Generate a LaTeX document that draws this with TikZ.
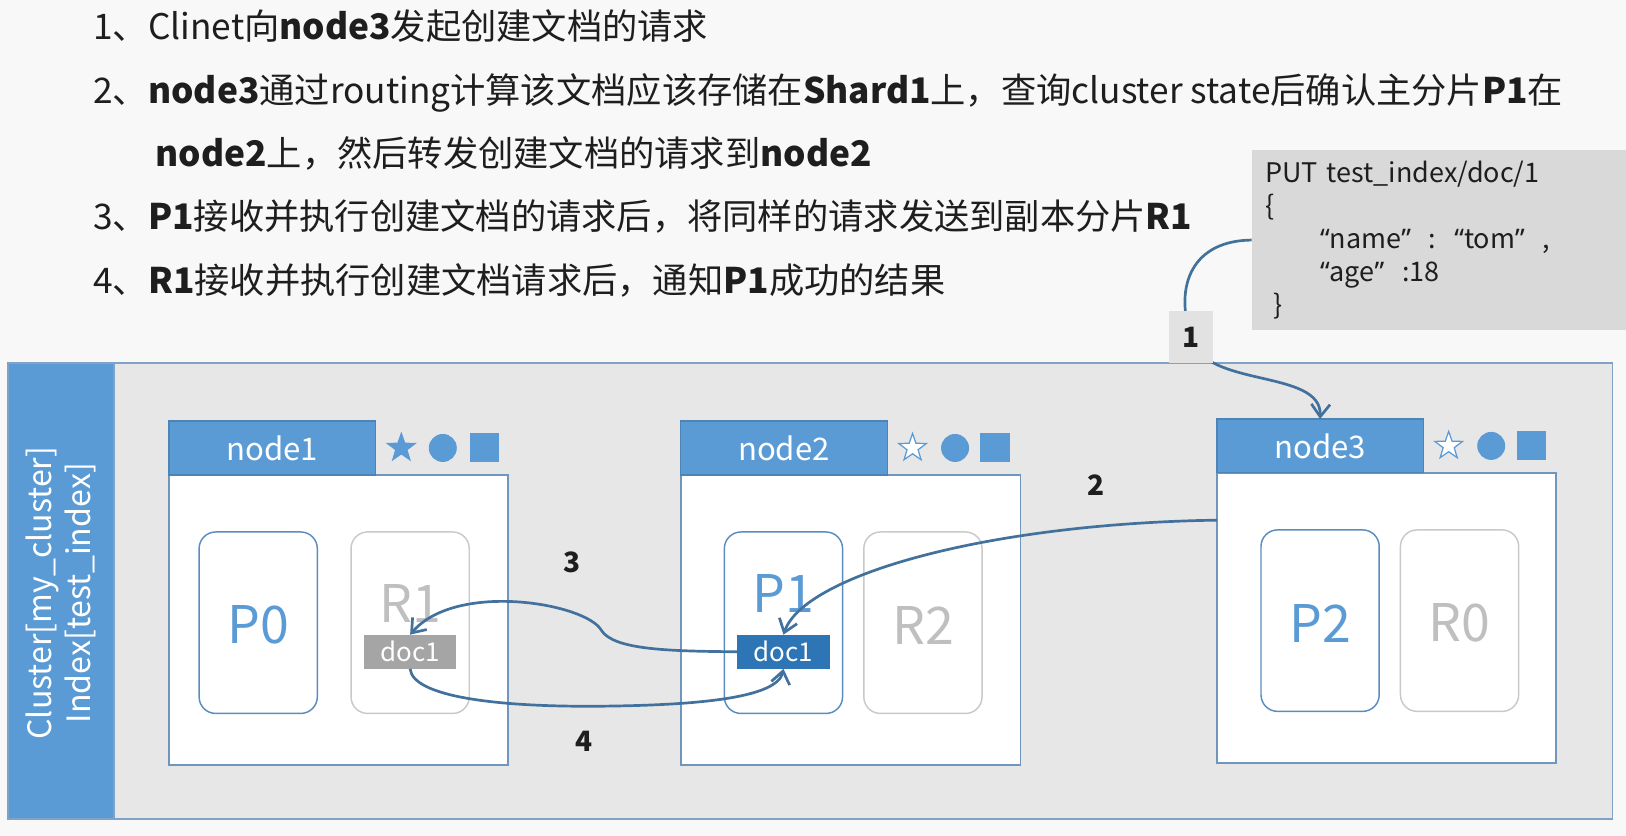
\documentclass[tikz,border=0pt]{standalone}
\usepackage{fontspec}
\setmainfont{Noto Sans CJK SC}
\newfontfamily\latinq{Noto Sans}
\usetikzlibrary{shapes.geometric,arrows.meta,calc}

\definecolor{hdrblue}{HTML}{5B9BD5}
\definecolor{docblue}{HTML}{2E75B6}
\definecolor{arrblue}{HTML}{41719C}
\definecolor{bodyline}{HTML}{7096BE}
\definecolor{clusterbg}{HTML}{E7E7E8}
\definecolor{clusterline}{HTML}{7FA2C6}
\definecolor{rline}{HTML}{C9C9C9}
\definecolor{rtext}{HTML}{BFBFBF}
\definecolor{pline}{HTML}{5A8CC0}
\definecolor{docgray}{HTML}{A5A5A5}
\definecolor{putgray}{HTML}{D9D9D9}
\definecolor{labgray}{HTML}{E2E2E2}
\definecolor{pagebg}{HTML}{F8F8F8}
\definecolor{ink}{HTML}{1E1E1E}

\newcommand{\oq}{{\latinq “}}
\newcommand{\cq}{{\latinq ”}}

\begin{document}
\begin{tikzpicture}[x=0.5pt,y=-0.5pt,
  every node/.style={inner sep=0pt, outer sep=0pt},
  mainline/.style={anchor=base west, text=ink, font=\fontsize{17}{20}\selectfont},
  hdr/.style={fill=hdrblue, draw=hdrblue!85!black, line width=0.6pt, minimum width=99.5pt, minimum height=26pt, text=white, font=\fontsize{15}{18}\selectfont},
  body/.style={fill=white, draw=bodyline, line width=0.8pt, minimum width=163.5pt, minimum height=140pt},
  pshard/.style={draw=pline, line width=0.7pt, fill=white, rounded corners=8pt, minimum width=57pt, minimum height=87.5pt},
  rshard/.style={draw=rline, line width=0.7pt, fill=white, rounded corners=8pt, minimum width=57pt, minimum height=87.5pt},
  ptext/.style={text=hdrblue, font=\fontsize{25}{28}\selectfont},
  rtxt/.style={text=rtext, font=\fontsize{25}{28}\selectfont},
  docbox/.style={minimum width=44.5pt, minimum height=16.5pt, text=white, font=\fontsize{12.5}{14}\selectfont},
  staricon/.style={shape=star, star points=5, star point ratio=2.5, minimum size=14pt, draw=hdrblue, line width=0.6pt},
  dot/.style={circle, fill=hdrblue, minimum size=13.5pt},
  sq/.style={fill=hdrblue, minimum size=14pt},
  num/.style={text=ink, font=\bfseries\fontsize{13.5}{15}\selectfont},
  arrowed/.style={draw=arrblue, line width=1.3pt, -{Straight Barb[length=6pt,width=9pt]}}
]
\useasboundingbox (0,0) rectangle (1568,806);
\fill[pagebg] (0,0) rectangle (1568,806);

% header text
\node[mainline] (t1) at (90,38) {1、Clinet向\textbf{node3}发起创建文档的请求};
\node[mainline] (t2) at (90,100) {2、\textbf{node3}通过routing计算该文档应该存储在\textbf{Shard1}上，查询cluster state后确认主分片\textbf{P1}在};
\node[mainline] (t3) at (150,161) {\textbf{node2}上，然后转发创建文档的请求到\textbf{node2}};
\node[mainline] (t4) at (90,221) {3、\textbf{P1}接收并执行创建文档的请求后，将同样的请求发送到副本分片\textbf{R1}};
\node[mainline] (t5) at (90,283) {4、\textbf{R1}接收并执行创建文档请求后，通知\textbf{P1}成功的结果};

% request box
\node[fill=putgray, minimum width=180.5pt, minimum height=86.5pt, inner xsep=6.5pt, text width=167.5pt, align=left, text=ink, font=\fontsize{13}{16}\selectfont] (put) at (1387.5,231.5)
  {PUT test\_index/doc/1\\
   \{\\
   \hspace*{26.5pt}\oq name\cq\ \ :\ \ \oq tom\cq\ \ ,\\
   \hspace*{26.5pt}\oq age\cq\ \ :18\\
   \hspace*{4pt}\}};

% cluster
\node[fill=clusterbg, draw=clusterline, line width=0.8pt, minimum width=773.5pt, minimum height=220pt] (cluster) at (781.5,570) {};
\node[fill=hdrblue, draw=clusterline, line width=0.8pt, minimum width=51pt, minimum height=220pt] (sidebar) at (59,570) {};
\node[text=white, rotate=90, align=center, font=\fontsize{15.5}{19}\selectfont] (side) at (59,572) {Cluster[my\_cluster]\\Index[test\_index]};

% node1
\node[body] (n1b) at (326.5,598) {};
\node[hdr] (n1h) at (262.5,432) {node1};
\node[staricon, fill=hdrblue] (n1s) at (387,432) {};
\node[dot] (n1c) at (427,432) {};
\node[sq] (n1q) at (467,432) {};
\node[pshard] (p0) at (249,600.5) {};
\node[ptext] (p0t) at (249,603) {P0};
\node[rshard] (r1) at (395.5,600.5) {};
\node[rtxt] (r1t) at (395.5,582) {R1};
\node[docbox, fill=docgray] (doc1g) at (395.5,628.5) {doc1};

% node2
\node[body] (n2b) at (820.5,598) {};
\node[hdr] (n2h) at (756,432) {node2};
\node[staricon, fill=white] (n2s) at (880,432) {};
\node[dot] (n2c) at (921,432) {};
\node[sq] (n2q) at (959.5,432) {};
\node[pshard] (p1) at (755.5,600.5) {};
\node[ptext] (p1t) at (755.5,572) {P1};
\node[rshard] (r2) at (890,600.5) {};
\node[rtxt] (r2t) at (890,603) {R2};
\node[docbox, fill=docblue] (doc1b) at (755.5,628.5) {doc1};

% node3
\node[body] (n3b) at (1337,596) {};
\node[hdr] (n3h) at (1273,430) {node3};
\node[staricon, fill=white] (n3s) at (1397,430) {};
\node[dot] (n3c) at (1438,430) {};
\node[sq] (n3q) at (1477,430) {};
\node[pshard] (p2) at (1273,598.5) {};
\node[ptext] (p2t) at (1273,601) {P2};
\node[rshard] (r0) at (1407.5,598.5) {};
\node[rtxt] (r0t) at (1407.5,601) {R0};

% connectors
\draw[arrowed] (put.west) .. controls (1150,232) and (1132,275) .. (1148.5,325)
   .. controls (1160,375) and (1275,355) .. (n3h.north);
\draw[arrowed] (n3b.150) .. controls (950,505) and (775,555) .. (doc1b.north);
\draw[arrowed] (doc1b.west) .. controls (640,628) and (592,626) .. (580,608)
   .. controls (566,582) and (440,560) .. (doc1g.north);
\draw[arrowed] (doc1g.south) .. controls (398,672) and (480,682) .. (580,681)
   .. controls (680,680) and (750,672) .. (doc1b.south);

% labels
\node[fill=labgray, minimum width=21.5pt, minimum height=25pt, num] (lab1) at (1148.5,325) {1};
\node[num] (lab2) at (1057,468) {2};
\node[num] (lab3) at (552,542) {3};
\node[num] (lab4) at (563,715) {4};
\end{tikzpicture}
\end{document}
